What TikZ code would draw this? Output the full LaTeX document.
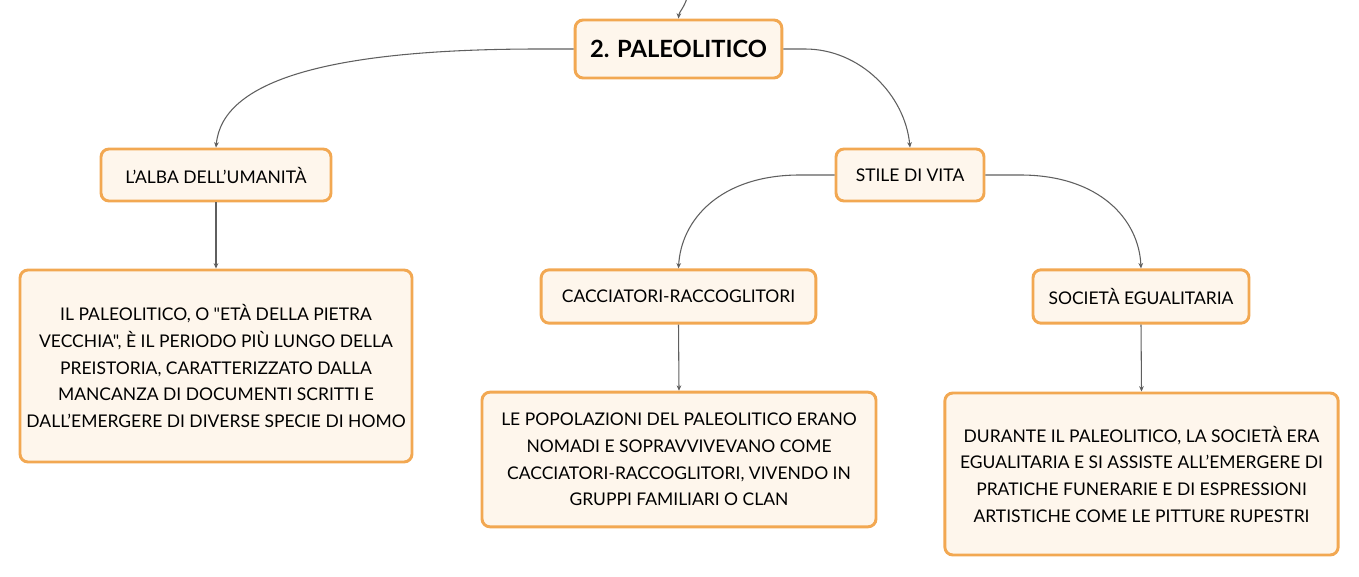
\documentclass[tikz,border=0pt]{standalone}
\usepackage{fontspec}
\setmainfont{Lato}[Ligatures=TeXOff]
\usetikzlibrary{arrows.meta}

\definecolor{boxline}{RGB}{242,168,82}
\definecolor{boxfill}{RGB}{254,246,236}
\definecolor{linkgray}{RGB}{95,95,95}

\tikzset{
  topic/.style={draw=boxline, fill=boxfill, line width=2.2pt, rounded corners=6pt, align=center,
    font=\fontsize{13.1}{20}\selectfont, inner sep=0pt},
  title/.style={topic, font=\fontsize{17.8}{20}\selectfont\bfseries},
  link/.style={draw=linkgray, line width=0.8pt, -{Stealth[length=4pt,width=3.5pt]}}
}

\begin{document}
\begin{tikzpicture}[x=0.75pt,y=0.75pt,yscale=-1,xscale=1]
\useasboundingbox (0,0) rectangle (1359,577);

%Main topic
\node [title, minimum width=155pt, minimum height=43.5pt] (paleo) at (678.5,49) {2. PALEOLITICO};
\coordinate (above) at (687,-2);

%Subtopics
\node [topic, minimum width=172.5pt, minimum height=39pt] (alba) at (216,175) {L’ALBA DELL’UMANITÀ};
\node [topic, minimum width=111pt, minimum height=39pt] (stile) at (910,175) {STILE DI VITA};
\node [topic, minimum width=206pt, minimum height=40pt] (caccia) at (678.5,296.5) {CACCIATORI-RACCOGLITORI};
\node [topic, minimum width=162pt, minimum height=40pt] (societa) at (1141,296.5) {SOCIETÀ EGUALITARIA};

%Text boxes
\node [topic, minimum width=294pt, minimum height=144pt] (albatxt) at (216,366) {IL PALEOLITICO, O "ETÀ DELLA PIETRA\\VECCHIA", È IL PERIODO PIÙ LUNGO DELLA\\PREISTORIA, CARATTERIZZATO DALLA\\MANCANZA DI DOCUMENTI SCRITTI E\\DALL’EMERGERE DI DIVERSE SPECIE DI HOMO};
\node [topic, minimum width=295.5pt, minimum height=101pt] (cacciatxt) at (679,459.5) {LE POPOLAZIONI DEL PALEOLITICO ERANO\\NOMADI E SOPRAVVIVEVANO COME\\CACCIATORI-RACCOGLITORI, VIVENDO IN\\GRUPPI FAMILIARI O CLAN};
\node [topic, minimum width=295pt, minimum height=121.5pt] (societatxt) at (1141.5,474) {DURANTE IL PALEOLITICO, LA SOCIETÀ ERA\\EGUALITARIA E SI ASSISTE ALL’EMERGERE DI\\PRATICHE FUNERARIE E DI ESPRESSIONI\\ARTISTICHE COME LE PITTURE RUPESTRI};

%Curve Lines
\draw [link] (above) .. controls (684,8) and (679,12) .. (paleo.north);
\draw [link] (paleo.west) -- (540,49) .. controls (330,49) and (222,80) .. (alba.north);
\draw [link] (paleo.east) -- (805,49) .. controls (860,49) and (905,95) .. (stile.north);
\draw [link] (stile.west) -- (800,175) .. controls (720,175) and (681,220) .. (caccia.north);
\draw [link] (stile.east) -- (1020,175) .. controls (1100,175) and (1139,220) .. (societa.north);
%Straight Lines
\draw [link] (alba.south) -- (albatxt.north);
\draw [link] (caccia.south) -- (cacciatxt.north);
\draw [link] (societa.south) -- (societatxt.north);

\end{tikzpicture}
\end{document}
